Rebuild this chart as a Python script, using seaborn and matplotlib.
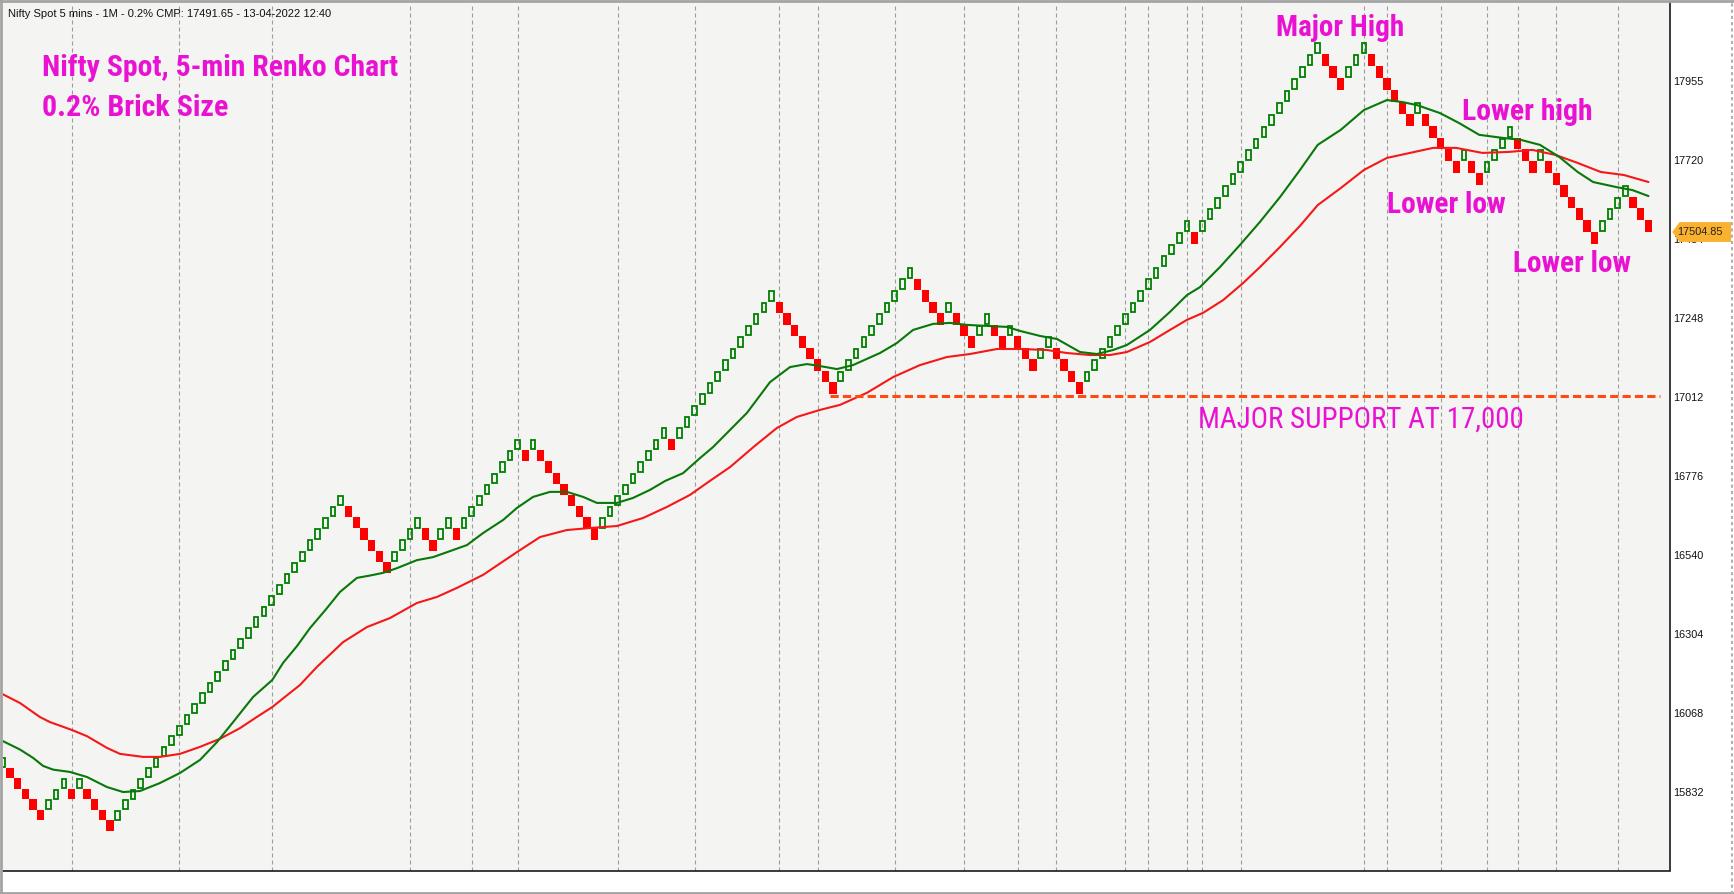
import numpy as np
import pandas as pd
import matplotlib
matplotlib.use("Agg")
import matplotlib.pyplot as plt
from matplotlib.patches import Polygon
from matplotlib.lines import Line2D
import seaborn as sns

# renko bricks, one per column: +n = n green (up) bricks, -n = n red (down) bricks
BRICK_RUNS = [1, -5, 3, -1, 1, -4, 30, -6, 4, -2, 2, -1, 8, -1, 1, -8, 9, -1, 13,
              -8, 10, -4, 1, -3, 2, -2, 1, -3, 2, -4, 14, -1, 16, -3, 3, -6, 1,
              -5, 1, -2, 4, -3, 1, -7, 4, -3]
BRICK_PCT = 0.2
LAST_CLOSE = 17504.85
CMP = 17491.65
SUPPORT = 17015
SUPPORT_FROM = 108          # brick no. of the first low on support

# brick numbers where a new session starts (dashed separators)
SESSION_BREAKS = [9, 23, 35, 53, 61, 67, 80, 90, 101, 106, 116, 125, 132, 137,
                  146, 149, 154, 156, 161, 177, 180, 187, 193, 197, 202, 210]

# moving averages (brick no., price)
GREEN_MA_X = [0, 2.3, 4.0, 5.3, 6.6, 8.8, 11.0, 13.6, 15.7, 17.9, 20.5, 23.1, 25.7,
              27.9, 30.0, 32.6, 35.1, 36.5, 38.3, 40.0, 42.0, 43.9, 46.1, 47.8, 49.5,
              51.3, 53.9, 56.0, 58.2, 60.4, 62.5, 65.1, 66.9, 69.0, 71.2, 73.4, 75.5,
              77.3, 79.9, 82.0, 84.2, 86.2, 88.5, 90.7, 92.4, 94.6, 96.8, 99.8, 102.4,
              104.6, 106.3, 108.5, 110.6, 114.1, 116.3, 118.4, 121.0, 123.2, 125.4,
              128.0, 130.6, 132.3, 134.9, 137.1, 140.1, 142.3, 144.4, 146.2, 149.2,
              151.8, 154.0, 155.7, 158.3, 160.9, 163.5, 166.1, 168.7, 171.0, 174.0,
              177.0, 180.0, 182.0, 183.9, 186.9, 189.4, 192.0, 195.0, 197.4, 199.9,
              202.4, 204.8, 206.8, 209.8, 211.9, 214.0]
GREEN_MA = [15984, 15958, 15933, 15909, 15898, 15891, 15876, 15846, 15831, 15834,
            15858, 15888, 15927, 15980, 16040, 16115, 16166, 16217, 16267, 16321,
            16375, 16429, 16471, 16478, 16486, 16500, 16524, 16533, 16551, 16569,
            16605, 16644, 16680, 16713, 16728, 16728, 16713, 16695, 16695, 16710,
            16734, 16761, 16784, 16829, 16862, 16913, 16964, 17056, 17101, 17110,
            17104, 17095, 17107, 17143, 17173, 17212, 17230, 17233, 17227, 17224,
            17221, 17209, 17194, 17185, 17146, 17140, 17152, 17167, 17212, 17266,
            17316, 17340, 17400, 17466, 17535, 17609, 17690, 17765, 17810, 17869,
            17899, 17893, 17884, 17860, 17830, 17795, 17786, 17780, 17765, 17729,
            17684, 17654, 17639, 17630, 17612]
RED_MA_X = [0, 2.3, 4.9, 6.2, 9.1, 11.0, 13.6, 15.3, 18.3, 20.5, 23.1, 25.7, 28.3,
            30.9, 33.0, 35.1, 36.4, 38.7, 40.9, 44.3, 47.4, 50.4, 53.9, 56.5, 59.1,
            62.5, 64.7, 66.9, 69.9, 73.4, 76.4, 79.9, 83.3, 86.4, 89.4, 92.0, 94.6,
            97.8, 100.7, 103.3, 106.3, 108.9, 112.4, 115.8, 119.3, 122.8, 125.8,
            129.3, 132.3, 135.8, 138.4, 141.4, 144.0, 146.2, 149.2, 151.8, 154.0,
            156.1, 158.7, 161.3, 163.5, 166.1, 168.7, 171.0, 174.0, 177.0, 180.0,
            183.0, 186.0, 189.0, 192.4, 195.9, 198.9, 201.9, 204.8, 207.8, 210.8, 214.0]
RED_MA = [16124, 16097, 16055, 16040, 16016, 15998, 15963, 15945, 15936, 15936,
          15945, 15966, 15990, 16022, 16054, 16085, 16109, 16151, 16205, 16279,
          16324, 16351, 16396, 16414, 16441, 16480, 16514, 16548, 16593, 16614,
          16620, 16626, 16650, 16683, 16719, 16761, 16802, 16865, 16919, 16952,
          16973, 16988, 17024, 17071, 17107, 17131, 17140, 17155, 17155, 17152,
          17143, 17137, 17137, 17146, 17176, 17212, 17242, 17263, 17301, 17352,
          17400, 17460, 17523, 17585, 17636, 17690, 17726, 17741, 17756, 17756,
          17741, 17744, 17750, 17735, 17711, 17684, 17675, 17654]

Y_TICKS = [15832, 16068, 16304, 16540, 16776, 17012, 17248, 17484, 17720, 17955]

W, H = 1734, 894
MAGENTA = "#ea12d2"
NARROW = ["Roboto Condensed", "PT Sans Narrow", "DejaVu Sans"]

# build brick table
steps = np.concatenate([np.full(abs(r), np.sign(r)) for r in BRICK_RUNS])
level = np.cumsum(steps) - steps[0]
ratio = 1 + BRICK_PCT / 100
lo = LAST_CLOSE * ratio ** (level - level[-1])
bricks = pd.DataFrame({"n": np.arange(len(steps)), "lo": lo, "hi": lo * ratio, "up": steps > 0})
bricks["size"] = bricks["hi"] - bricks["lo"]

sns.set_style("white")
plt.rcParams["font.family"] = ["Liberation Sans", "DejaVu Sans"]

fig = plt.figure(figsize=(W / 100, H / 100), dpi=100)
fig.patch.set_facecolor("white")
ax = fig.add_axes([2.7 / W, 23.5 / H, (1670 - 2.7) / W, (870.5 - 3) / H])
ax.set_facecolor("#f4f4f2")

for b in SESSION_BREAKS:
    ax.axvline(b, color="#9c9c9c", lw=0.8, ls=(0, (3.6, 2.7)), zorder=1)

red = bricks[~bricks["up"]]
green = bricks[bricks["up"]]
ax.bar(red["n"], red["size"], bottom=red["lo"], width=0.95, color="#ff0000",
       linewidth=0, zorder=3)
ax.bar(green["n"], green["size"] * 0.84, bottom=green["lo"] + green["size"] * 0.08,
       width=0.6, fill=False, edgecolor="#008000", linewidth=1.3, zorder=3)

sns.lineplot(x=RED_MA_X, y=RED_MA, ax=ax, color="#f41818", lw=1.5,
             estimator=None, sort=False, zorder=4)
sns.lineplot(x=GREEN_MA_X, y=GREEN_MA, ax=ax, color="#087808", lw=1.5,
             estimator=None, sort=False, zorder=4)

ax.plot([SUPPORT_FROM - 0.45, 215.5], [SUPPORT, SUPPORT], color="#ff4a12", lw=2.2,
        ls=(0, (2.7, 1.35)), zorder=5)

ax.set_xlim(0.05, 216.8)
ax.set_ylim(15596.5, 18189)
ax.set_xticks([])
ax.yaxis.tick_right()
ax.set_yticks(Y_TICKS)
ax.set_yticklabels([str(v) for v in Y_TICKS])
ax.tick_params(axis="y", length=0, pad=2.4, labelsize=7.8, labelcolor="#111111")
for s in ["left", "top"]:
    ax.spines[s].set_visible(False)
for s in ["right", "bottom"]:
    ax.spines[s].set_color("#1a1a1a")
    ax.spines[s].set_linewidth(1.2)

# last price tag on the price scale
fig.canvas.draw()
ty = ax.transData.transform((0, LAST_CLOSE))[1] / H
tag = Polygon([(1672.3 / W, ty), (1679.5 / W, ty + 9.8 / H), (1731 / W, ty + 9.8 / H),
               (1731 / W, ty - 10 / H), (1679.5 / W, ty - 10 / H)],
              closed=True, transform=fig.transFigure, facecolor="#f9b12e",
              edgecolor="none", zorder=5)
fig.add_artist(tag)
fig.text(1677.5 / W, ty, f"{LAST_CLOSE:.2f}", fontsize=7.8, color="#222222",
         va="center", ha="left", zorder=6)

# outer frame
for xs, ys in [([1.2, 1.2], [0, H]), ([0, W], [1.2, 1.2]), ([0, W], [H - 1.2, H - 1.2])]:
    fig.add_artist(Line2D([x / W for x in xs], [1 - y / H for y in ys], color="#a3a3a3",
                          lw=2, transform=fig.transFigure))
fig.add_artist(Line2D([1732 / W, 1732 / W], [0, 1], color="#b0b0b0", lw=1.5,
                      ls=(0, (1.5, 1.5)), transform=fig.transFigure))

fig.text(7.7 / W, 1 - 17 / H,
         f"Nifty Spot 5 mins - 1M - {BRICK_PCT}% CMP: {CMP} - 13-04-2022 12:40",
         fontsize=8, color="#111111", va="baseline", ha="left")

# annotations: text, left x, baseline y, target width (px), weight
notes = [
    ("Nifty Spot, 5-min Renko Chart", 42, 76, 356, "bold"),
    ("0.2% Brick Size", 42, 116, 186, "bold"),
    ("Major High", 1276, 36.5, 128, "bold"),
    ("Lower high", 1462, 120, 130, "bold"),
    ("Lower low", 1387, 213, 119, "bold"),
    ("Lower low", 1513, 272, 118, "bold"),
    ("MAJOR SUPPORT AT 17,000", 1198, 428, 326, "normal"),
]
texts = []
for txt, x, y, tw, wt in notes:
    t = fig.text(x / W, 1 - y / H, txt, fontsize=20, color=MAGENTA, fontweight=wt,
                 family=NARROW, va="baseline", ha="left", zorder=7)
    texts.append((t, tw))
fig.canvas.draw()
renderer = fig.canvas.get_renderer()
for t, tw in texts:
    w = t.get_window_extent(renderer).width
    t.set_fontsize(20 * tw / w)

fig.savefig("out.png", dpi=100)
plt.close(fig)
